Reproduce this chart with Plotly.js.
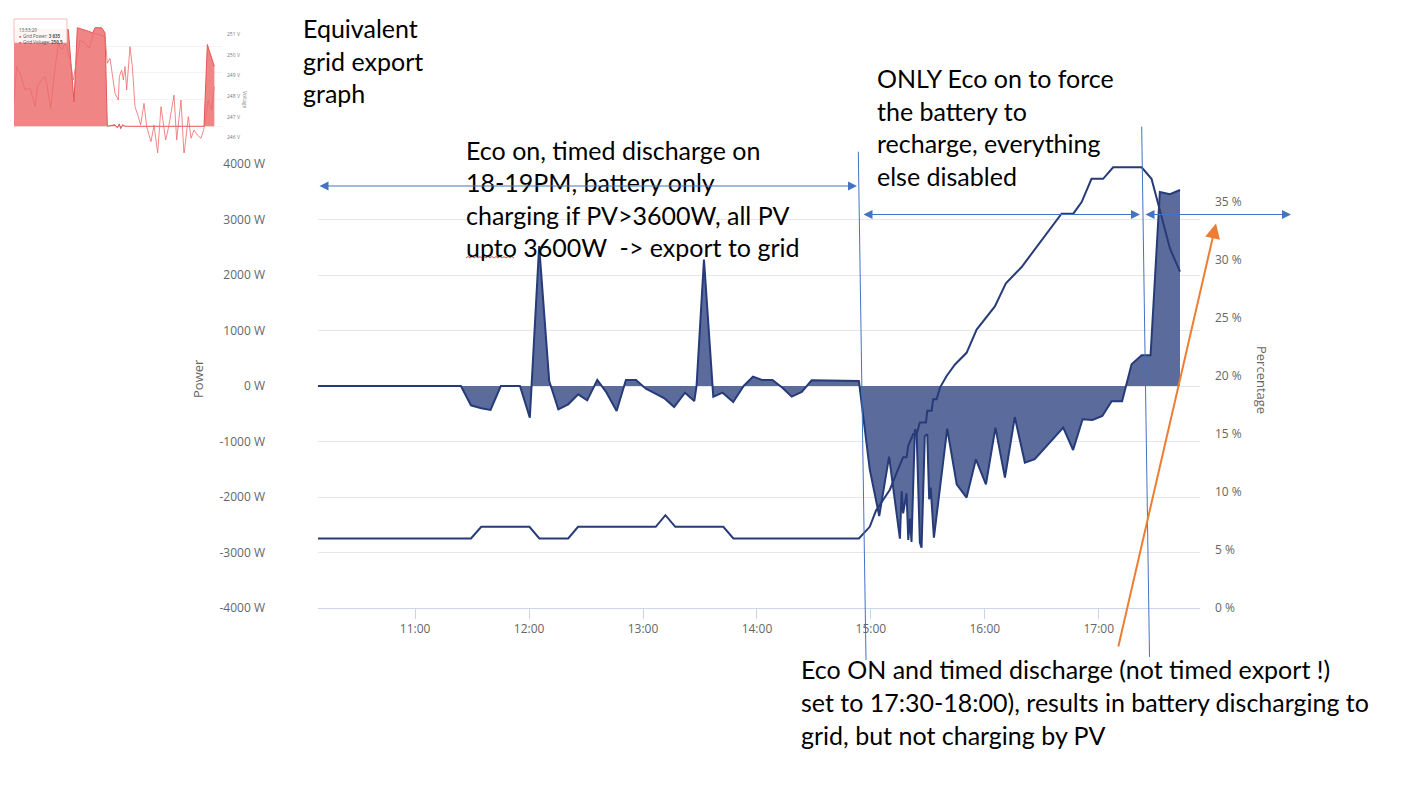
<!DOCTYPE html>
<html><head><meta charset="utf-8">
<script src="https://cdn.plot.ly/plotly-3.0.1.min.js"></script>
<style>html,body{margin:0;padding:0;background:#fff;}#chart{width:1403px;height:789px;}</style>
</head><body><div id="chart"></div>
<script>
const W = 1403, H = 789;
const DAY = '2023-06-01 ';

// Main chart: grid power (W)
const powerTimes = ["10:08:48","11:24:06","11:29:24","11:34:48","11:39:42","11:45:06","11:55:12","12:00:24","12:05:18","12:10:36",
"12:15:24","12:20:36","12:25:54","12:30:36","12:35:54","12:40:48","12:46:06","12:51:00","12:56:18","13:01:30",
"13:06:18","13:11:30","13:16:24","13:22:06","13:27:00","13:28:12","13:32:06","13:37:00","13:41:54","13:47:30",
"13:53:00","13:57:54","14:02:42","14:08:12","14:13:24","14:18:18","14:23:36","14:28:48","14:53:42","14:59:24",
"15:04:24","15:09:36","15:15:18","15:16:12","15:17:00","15:18:48","15:19:42","15:20:36","15:21:24","15:23:12",
"15:24:06","15:25:48","15:26:42","15:28:24","15:29:42","15:30:42","15:31:30","15:33:12","15:40:12","15:45:12",
"15:50:24","15:55:18","16:00:36","16:05:36","16:10:36","16:15:48","16:21:06","16:26:18","16:41:18","16:46:30",
"16:51:30","16:56:42","17:01:54","17:06:48","17:12:18","17:17:18","17:22:36","17:27:18","17:32:12","17:37:30","17:42:48"];
const powerWatts = [0,0,-348,-402,-432,0,0,-570,2520,90,
-420,-330,-150,-258,108,-120,-450,108,108,-48,
-132,-228,-378,-120,-270,0,2280,-192,-120,-288,
0,168,109,109,-30,-192,-108,103,90,-1500,
-2343,-1272,-2750,-1892,-2294,-1934,-2775,-2390,-2811,-780,
-840,-2822,-2912,-900,-870,-2042,-1831,-2732,-768,-1771,
-2011,-1321,-1771,-750,-1651,-560,-1380,-1320,-750,-1153,
-600,-612,-540,-276,-276,391,553,553,3496,3455,3532];

// Main chart: battery percentage
const pctTimes = ["10:08:48","11:29:24","11:34:48","12:00:12","12:05:24","12:20:36","12:25:48","13:06:42","13:11:48","13:17:00",
"13:42:18","13:47:36","14:53:42","14:59:24","15:02:42","15:06:12","15:10:00","15:14:24","15:17:00","15:18:48",
"15:19:42","15:22:18","15:24:06","15:25:48","15:29:00","15:29:42","15:32:00","15:32:48","15:34:36","15:36:24",
"15:39:54","15:44:18","15:50:24","15:55:42","16:05:18","16:11:06","16:19:24","16:40:24","16:46:36","16:51:00",
"16:56:12","17:02:18","17:07:36","17:22:36","17:27:48","17:32:12","17:37:30","17:42:48"];
const pctValues = [6,6,7,7,6,6,7,7,8,7,
7,6,6,7,8.4,9.3,10.2,12,13,13,
14,15,15,16,16,17,17,18,18,19,
20,21,22,24,26,28,29.4,34,34,35,
37,37,38,38,37,34.3,31,29];

// Axis ticks
const powerTickVals = [-4000,-3000,-2000,-1000,0,1000,2000,3000,4000];
const powerTickText = ['-4000 W','-3000 W','-2000 W','-1000 W','0 W','1000 W','2000 W','3000 W','4000 W'];
const pctTickVals = [0,5,10,15,20,25,30,35];
const pctTickText = ['0 %','5 %','10 %','15 %','20 %','25 %','30 %','35 %'];

// Inset (equivalent grid export graph)
const insetPowerX = [42,205,222,232,265,278,285,305,315,322,345,352,358,362,368,375,612,622,643];
const insetPowerW = [3620,3620,920,3690,3560,3500,3690,3690,3500,0,60,-60,90,-90,60,0,0,3060,2240];
const insetVoltX = [42,50,62,75,90,105,112,125,135,140,152,162,175,185,195,200,210,220,240,255,268,280,300,315,322,330,345,355,358,365,370,375,380,390,397,405,415,422,432,440,453,462,473,483,497,506,522,530,543,552,565,573,582,592,603,612,625,635,643];
const insetVoltV = [247.66,249.44,249.03,248.31,248.39,247.50,248.47,248.79,248.95,248.63,247.42,248.95,250.56,250.24,250.56,250.40,249.76,248.79,250.73,250.56,250.32,251.05,250.97,250.89,249.60,249.84,248.15,247.82,248.95,249.27,248.79,249.44,248.31,250.40,249.44,247.50,247.02,246.61,247.66,246.53,245.81,246.61,245.27,247.50,245.89,246.53,248.06,245.89,247.82,245.16,247.02,245.97,246.37,246.13,245.97,246.45,247.82,247.34,248.47];
const insetTooltip = ['13:53:29', 'Grid Power: ', '3 635', 'Grid Voltage: ', '250.5'];

// Callout texts
const noteExport = ['Equivalent', 'grid export', 'graph'];
const noteEcoTimed = ['Eco on, timed discharge on', '18-19PM, battery only', 'charging if PV>3600W, all PV', 'upto 3600W \u00a0-> export to grid'];
const noteEcoOnly = ['ONLY Eco on to force', 'the battery to', 'recharge, everything', 'else disabled'];
const noteDischarge = ['Eco ON and timed discharge (not timed export !)', 'set to 17:30-18:00), results in battery discharging to', 'grid, but not charging by PV'];

const P = x => x / W, Q = y => 1 - y / H;
const NAVY = '#263b78', BLUE = '#4472c4', ORANGE = '#ed7d31';

const traces = [
  {x: powerTimes.map(t => DAY + t), y: powerWatts, type: 'scatter', mode: 'lines', fill: 'tozeroy',
   fillcolor: '#5b6c9c', line: {color: NAVY, width: 2}, xaxis: 'x', yaxis: 'y', hoverinfo: 'skip'},
  {x: pctTimes.map(t => DAY + t), y: pctValues, type: 'scatter', mode: 'lines',
   line: {color: NAVY, width: 2}, xaxis: 'x', yaxis: 'y2', hoverinfo: 'skip'},
  {x: insetPowerX, y: insetPowerW, type: 'scatter', mode: 'lines', fill: 'tozeroy',
   fillcolor: 'rgba(236,112,112,0.85)', line: {color: '#e55555', width: 1}, xaxis: 'x3', yaxis: 'y3', hoverinfo: 'skip'},
  {x: insetVoltX, y: insetVoltV, type: 'scatter', mode: 'lines',
   line: {color: '#ee6a6a', width: 0.8}, xaxis: 'x3', yaxis: 'y4', hoverinfo: 'skip'}
];

const annotations = [];
function addLines(lines, x, y0, dy, size) {
  lines.forEach((s, i) => annotations.push({
    xref: 'paper', yref: 'paper', x: P(x), y: Q(y0 + i * dy), xanchor: 'left', yanchor: 'middle',
    text: s, showarrow: false, font: {family: 'Lato, sans-serif', size: size, color: '#000'}
  }));
}
addLines(noteExport, 301, 28, 32.5, 25);
addLines(noteEcoTimed, 464, 150, 32.4, 25);
addLines(noteEcoOnly, 875, 78, 32.7, 25);
addLines(noteDischarge, 799, 669, 33, 25);

function arrow(hx, hy, tx, ty, color, w, both) {
  annotations.push({
    xref: 'paper', yref: 'paper', x: P(hx), y: Q(hy), ax: tx - hx, ay: ty - hy, axref: 'pixel', ayref: 'pixel',
    text: '', showarrow: true, arrowhead: 2, startarrowhead: 2, arrowside: both ? 'end+start' : 'end',
    arrowsize: 1.5, startarrowsize: 1.5, arrowwidth: w, arrowcolor: color, standoff: 0, startstandoff: 0
  });
}
arrow(857, 186, 318, 186, BLUE, 1.2, true);
arrow(1140, 214.5, 862, 214.5, BLUE, 1.2, true);
arrow(1291, 214.5, 1144, 214.5, BLUE, 1.2, true);
arrow(1216, 223.5, 1118, 648, ORANGE, 2, false);

// axis titles
annotations.push({xref: 'paper', yref: 'paper', x: P(198), y: Q(378), xanchor: 'center', yanchor: 'middle', text: 'Power', textangle: -90, showarrow: false,
  font: {family: 'Open Sans, sans-serif', size: 13, color: '#666'}});
annotations.push({xref: 'paper', yref: 'paper', x: P(1262), y: Q(380), xanchor: 'center', yanchor: 'middle', text: 'Percentage', textangle: 90, showarrow: false,
  font: {family: 'Open Sans, sans-serif', size: 13, color: '#666'}});
annotations.push({xref: 'paper', yref: 'paper', x: P(245), y: Q(100), xanchor: 'center', yanchor: 'middle', text: 'Voltage', textangle: 90, showarrow: false,
  font: {family: 'Open Sans, sans-serif', size: 5, color: '#888'}});
// inset tooltip texts
const tipFont = {family: 'Open Sans, sans-serif', size: 4.5, color: '#555'};
annotations.push({xref: 'paper', yref: 'paper', x: P(17), y: Q(25), xanchor: 'left', text: insetTooltip[0], showarrow: false, font: tipFont});
annotations.push({xref: 'paper', yref: 'paper', x: P(17), y: Q(31), xanchor: 'left', text: '<span style="color:#e55">\u25cf</span> ' + insetTooltip[1] + '<b>' + insetTooltip[2] + '</b>', showarrow: false, font: tipFont});
annotations.push({xref: 'paper', yref: 'paper', x: P(17), y: Q(37), xanchor: 'left', text: '<span style="color:#e55">\u25cf</span> ' + insetTooltip[3] + '<b>' + insetTooltip[4] + '</b>', showarrow: false, font: tipFont});

// red squiggle under "upto"
let sq = 'M' + P(466) + ',' + Q(258);
for (let x = 466, k = 0; x < 514; x += 2, k++) sq += ' L' + P(x + 2) + ',' + Q(k % 2 ? 258 : 256.5);

const shapes = [
  {type: 'line', xref: 'paper', yref: 'paper', x0: P(858.3), y0: Q(151.7), x1: P(866), y1: Q(660), line: {color: BLUE, width: 1}},
  {type: 'line', xref: 'paper', yref: 'paper', x0: P(1141.7), y0: Q(126.7), x1: P(1149.5), y1: Q(657), line: {color: BLUE, width: 1}},
  {type: 'rect', xref: 'paper', yref: 'paper', x0: P(14), y0: Q(19), x1: P(67), y1: Q(43), fillcolor: 'rgba(255,255,255,0.92)', line: {color: '#f2a0a0', width: 0.7}},
  {type: 'path', xref: 'paper', yref: 'paper', path: sq, line: {color: '#e02020', width: 0.8}}
];

const tickFont = {family: 'Open Sans, sans-serif', size: 12, color: '#666'};
const layout = {
  width: W, height: H, margin: {l: 0, r: 0, t: 0, b: 0}, paper_bgcolor: '#fff', plot_bgcolor: 'rgba(0,0,0,0)',
  showlegend: false, hovermode: false,
  xaxis: {domain: [P(318), P(1200)], type: 'date', range: [DAY + '10:08:50', DAY + '17:53:20'], tickformat: '%H:%M',
    dtick: 3600000, tick0: DAY + '11:00', showgrid: false, showline: true, linecolor: '#ccd6eb', linewidth: 1,
    ticks: 'outside', ticklen: 10, tickcolor: '#ccd6eb', tickfont: tickFont, zeroline: false, anchor: 'y', fixedrange: true},
  yaxis: {domain: [Q(608), Q(164)], range: [-4000, 4000], tickmode: 'array', tickvals: powerTickVals, ticktext: powerTickText,
    showgrid: true, gridcolor: '#e6e6e6', zeroline: false, tickfont: tickFont, ticklabelstandoff: 52, anchor: 'x', fixedrange: true},
  yaxis2: {overlaying: 'y', side: 'right', range: [0, 38.28], tickmode: 'array', tickvals: pctTickVals, ticktext: pctTickText,
    showgrid: false, zeroline: false, tickfont: tickFont, ticklabelstandoff: 14, anchor: 'x', fixedrange: true},
  xaxis3: {domain: [P(14), P(222)], range: [42, 666], visible: false, anchor: 'y3', fixedrange: true},
  yaxis3: {domain: [Q(153), Q(20)], range: [-1000, 3980], dtick: 1000, showgrid: true, gridcolor: '#eeeeee', gridwidth: 0.7,
    showticklabels: false, zeroline: false, anchor: 'x3', fixedrange: true},
  yaxis4: {overlaying: 'y3', side: 'right', range: [245.26, 251.69], dtick: 1, ticksuffix: ' V', showgrid: false, zeroline: false,
    tickfont: {family: 'Open Sans, sans-serif', size: 5, color: '#777'}, ticklabelstandoff: 4, anchor: 'x3', fixedrange: true},
  shapes: shapes,
  annotations: annotations
};

Plotly.newPlot('chart', traces, layout, {staticPlot: true, displayModeBar: false});
</script>
</body></html>
